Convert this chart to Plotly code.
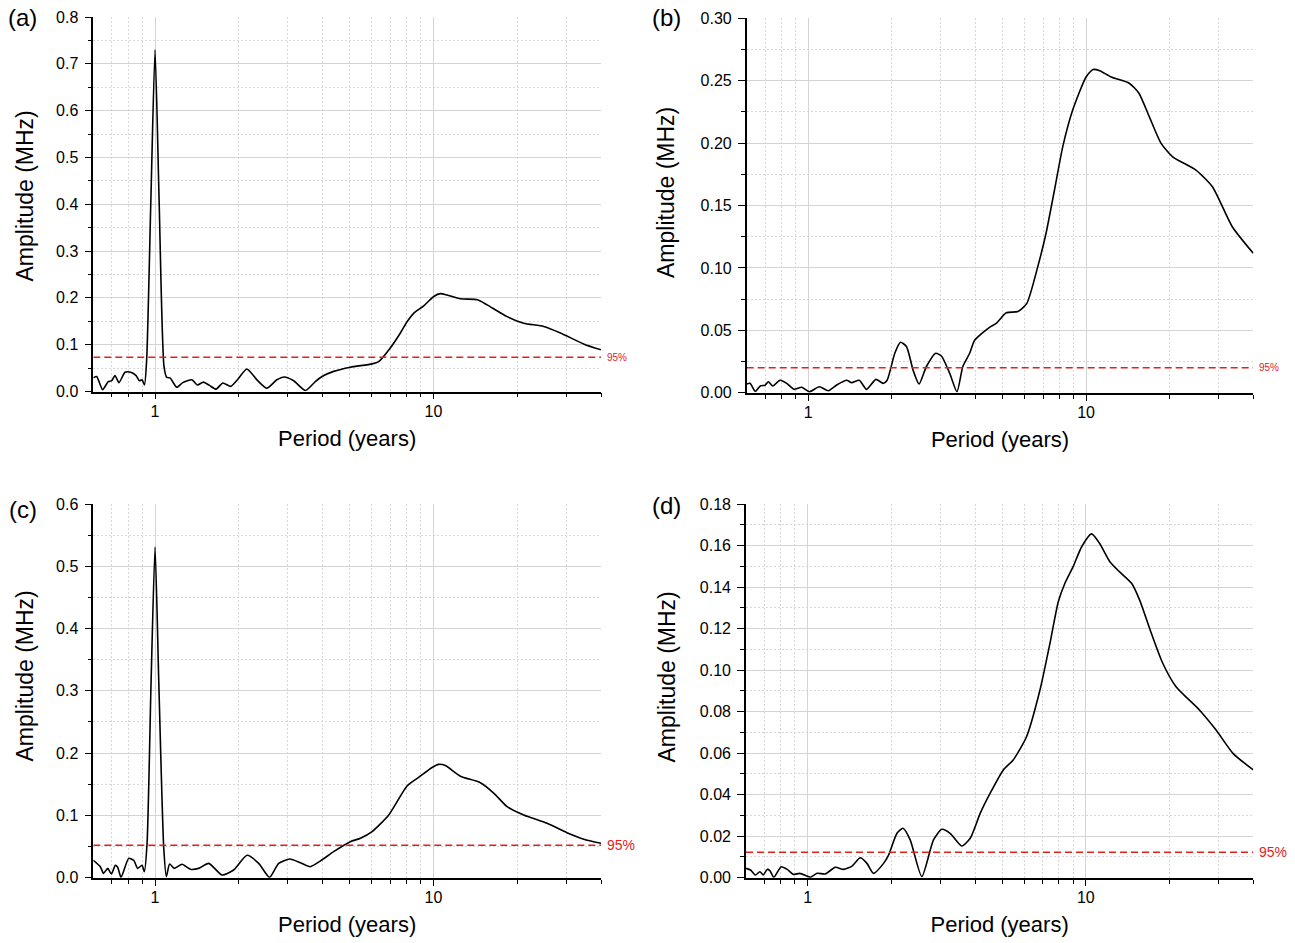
import math
import plotly.graph_objects as go

# ---------------- data ----------------
a_period = [0.6, 0.617, 0.648, 0.679, 0.699, 0.718, 0.742, 0.780, 0.818, 0.855,
            0.879, 0.898, 0.916, 0.933, 0.966, 1.0, 1.034, 1.077, 1.102, 1.132,
            1.197, 1.258, 1.356, 1.420, 1.492, 1.568, 1.656, 1.752, 1.872, 1.977,
            2.137, 2.322, 2.521, 2.739, 2.912, 3.148, 3.467, 3.765, 3.98, 4.38,
            5.03, 6.02, 6.36, 7.0, 7.61, 8.04, 8.49, 9.23, 10.03, 10.6,
            11.2, 12.5, 14.4, 15.6, 18.4, 21.1, 24.9, 28.6, 34.8, 40]
a_amp = [0.029, 0.032, 0.004, 0.021, 0.023, 0.034, 0.019, 0.041, 0.041, 0.034,
         0.023, 0.025, 0.014, 0.068, 0.409, 0.730, 0.409, 0.053, 0.030, 0.029,
         0.009, 0.019, 0.025, 0.014, 0.020, 0.013, 0.005, 0.018, 0.011, 0.025,
         0.048, 0.025, 0.007, 0.025, 0.031, 0.023, 0.002, 0.021, 0.032, 0.043,
         0.052, 0.059, 0.064, 0.093, 0.125, 0.149, 0.167, 0.183, 0.203, 0.209,
         0.206, 0.198, 0.196, 0.185, 0.160, 0.146, 0.139, 0.125, 0.101, 0.089]

b_period = [0.6, 0.617, 0.644, 0.671, 0.699, 0.718, 0.745, 0.791, 0.836, 0.889,
            0.946, 1.008, 1.096, 1.180, 1.265, 1.374, 1.432, 1.525, 1.621, 1.751,
            1.860, 1.922, 2.048, 2.147, 2.256, 2.384, 2.504, 2.662, 2.875, 3.014,
            3.23, 3.43, 3.60, 3.81, 3.97, 4.49, 4.75, 5.16, 5.68, 6.12,
            6.70, 7.18, 7.69, 8.24, 8.95, 10.0, 10.6, 11.2, 12.3, 14.3,
            15.5, 16.9, 18.6, 20.5, 24.8, 28.5, 33.6, 40]
b_amp = [0.007, 0.0075, 0.001, 0.0054, 0.006, 0.0088, 0.0054, 0.010, 0.0075, 0.0027,
         0.0043, 0.0008, 0.0048, 0.0016, 0.0062, 0.010, 0.008, 0.010, 0.0027, 0.0107,
         0.0075, 0.010, 0.0316, 0.0404, 0.037, 0.018, 0.007, 0.021, 0.0316, 0.0294,
         0.0155, 0.0008, 0.021, 0.0316, 0.042, 0.0524, 0.0556, 0.064, 0.065, 0.0716,
         0.101, 0.128, 0.162, 0.197, 0.2265, 0.253, 0.259, 0.258, 0.253, 0.248,
         0.240, 0.221, 0.200, 0.189, 0.1785, 0.165, 0.133, 0.1117]

c_period = [0.6, 0.636, 0.653, 0.676, 0.697, 0.720, 0.734, 0.755, 0.804, 0.838,
            0.866, 0.898, 0.915, 0.936, 0.968, 1.0, 1.031, 1.074, 1.098, 1.128,
            1.173, 1.250, 1.339, 1.435, 1.559, 1.741, 1.916, 2.141, 2.357, 2.580,
            2.78, 3.046, 3.33, 3.61, 3.93, 4.38, 5.03, 5.47, 6.02, 6.91,
            8.04, 8.85, 9.89, 10.45, 11.04, 12.5, 14.75, 16.5, 18.4, 21.1,
            25.6, 30.2, 34.7, 40]
c_amp = [0.028, 0.0177, 0.007, 0.015, 0.006, 0.020, 0.0167, 0.0006, 0.031, 0.028,
         0.015, 0.020, 0.0096, 0.055, 0.317, 0.531, 0.317, 0.050, 0.0016, 0.022,
         0.015, 0.0215, 0.0135, 0.015, 0.023, 0.0043, 0.0124, 0.036, 0.023, 0.0006,
         0.023, 0.030, 0.024, 0.0177, 0.027, 0.0418, 0.0578, 0.0633, 0.0739, 0.1007,
         0.1472, 0.161, 0.177, 0.182, 0.180, 0.163, 0.1525, 0.1355, 0.114, 0.1007,
         0.0873, 0.0723, 0.0617, 0.0552]

d_period = [0.6, 0.623, 0.649, 0.673, 0.692, 0.715, 0.731, 0.755, 0.803, 0.844,
            0.887, 0.936, 0.995, 1.023, 1.081, 1.157, 1.257, 1.346, 1.443, 1.545,
            1.633, 1.725, 1.874, 1.953, 2.094, 2.200, 2.336, 2.572, 2.833, 3.035,
            3.25, 3.58, 3.84, 4.17, 4.53, 5.05, 5.48, 6.12, 6.84, 7.43,
            7.96, 8.41, 9.00, 9.66, 10.48, 11.2, 12.2, 13.2, 14.6, 15.6,
            17.2, 18.9, 21.1, 25.6, 29.4, 33.8, 40]
d_amp = [0.0045, 0.0037, 0.0013, 0.0029, 0.0013, 0.0040, 0.0034, 0.0002, 0.0053, 0.0040,
         0.0016, 0.0021, 0.0008, 0.0002, 0.0021, 0.0018, 0.0050, 0.0040, 0.0056, 0.0096,
         0.0069, 0.0021, 0.0069, 0.0109, 0.0214, 0.0238, 0.0182, 0.0005, 0.0182, 0.0233,
         0.0214, 0.0153, 0.0190, 0.031, 0.0407, 0.0519, 0.0567, 0.0679, 0.0904, 0.1129,
         0.1329, 0.1418, 0.1498, 0.1594, 0.1656, 0.1611, 0.1522, 0.1474, 0.1418, 0.1338,
         0.1177, 0.1033, 0.0920, 0.0808, 0.0711, 0.0599, 0.0519]

thresholds = [0.073, 0.020, 0.052, 0.0122]
panel_labels = ["(a)", "(b)", "(c)", "(d)"]
y_max = [0.8, 0.30, 0.6, 0.18]
y_dtick = [0.1, 0.05, 0.1, 0.02]
y_fmt = [".1f", ".2f", ".1f", ".2f"]
x_range = [0.6, 40]
x_major = [1, 10]
x_minor = [0.7, 0.8, 0.9, 2, 3, 4, 5, 6, 7, 8, 9, 20, 30, 40]
x_title = "Period (years)"
y_title = "Amplitude (MHz)"
sig_label = "95%"
sig_font = [10, 10, 14, 14]

periods = [a_period, b_period, c_period, d_period]
amps = [a_amp, b_amp, c_amp, d_amp]
for p, a in zip(periods, amps):
    assert len(p) == len(a)

# ---------------- layout geometry ----------------
W, H = 1295, 943
# pixel boxes: (left, right, top, bottom)
boxes = [(93.3, 601, 17, 391.5), (746.7, 1253.3, 18.3, 392.7),
         (93.3, 601, 504, 877.7), (746, 1253.3, 504, 877.7)]
label_pos = [(6, 17), (650, 17), (7, 509), (650, 505)]
ytitle_pos = [(24, 196.5), (666, 192), (24, 676.5), (666, 676.5)]

FONT = "Arial, Liberation Sans, sans-serif"
MAJ_GRID = "#d4d4d4"
MIN_GRID = "#d8d8d8"
RED = "#e3211c"

fig = go.Figure()
layout = dict(width=W, height=H, margin=dict(l=0, r=0, t=0, b=0, autoexpand=False),
              paper_bgcolor="white", plot_bgcolor="white", showlegend=False,
              font=dict(family=FONT, color="black"))
annotations = []

for i in range(4):
    n = "" if i == 0 else str(i + 1)
    xa, ya = "x" + n, "y" + n
    l, r, t, b = boxes[i]
    xdom = [l / W, r / W]
    ydom = [1 - b / H, 1 - t / H]

    fig.add_trace(go.Scatter(x=periods[i], y=amps[i], mode="lines", xaxis=xa, yaxis=ya,
                             line=dict(color="black", width=1.6, shape="spline", smoothing=0.6),
                             hoverinfo="x+y"))
    fig.add_trace(go.Scatter(x=x_range, y=[thresholds[i]] * 2, mode="lines", xaxis=xa, yaxis=ya,
                             line=dict(color=RED, width=1.5, dash="7px,4px"), hoverinfo="skip"))

    layout["xaxis" + n] = dict(
        domain=xdom, anchor=ya, type="log", automargin=False,
        range=[math.log10(x_range[0]), math.log10(x_range[1])],
        tickmode="array", tickvals=x_major, ticktext=[str(v) for v in x_major],
        ticks="outside", ticklen=6, tickwidth=1.3, tickcolor="black",
        showline=True, linecolor="black", linewidth=1.6,
        showgrid=True, gridcolor=MAJ_GRID, gridwidth=1,
        tickfont=dict(size=16, family=FONT, color="black"),
        ticklabelstandoff=-2,
        minor=dict(tickmode="array", tickvals=x_minor, ticks="outside", ticklen=4,
                   tickwidth=1.2, tickcolor="black", showgrid=True,
                   gridcolor=MIN_GRID, griddash="2px,2px", gridwidth=1),
        title=dict(text=x_title, font=dict(size=22, family=FONT, color="black"),
                   standoff=12),
        zeroline=False, mirror=False,
    )
    layout["yaxis" + n] = dict(
        domain=ydom, anchor=xa, range=[0, y_max[i]], automargin=False,
        tickmode="linear", tick0=0, dtick=y_dtick[i], tickformat=y_fmt[i],
        ticks="outside", ticklen=7, tickwidth=1.3, tickcolor="black",
        showline=True, linecolor="black", linewidth=1.6,
        showgrid=True, gridcolor=MAJ_GRID, gridwidth=1,
        tickfont=dict(size=16, family=FONT, color="black"),
        ticklabelstandoff=3,
        minor=dict(tickmode="linear", tick0=y_dtick[i] / 2, dtick=y_dtick[i], ticks="outside",
                   ticklen=4, tickwidth=1.2, tickcolor="black", showgrid=True,
                   gridcolor=MIN_GRID, griddash="2px,2px", gridwidth=1),
        zeroline=False, mirror=False,
    )

    # y-axis title placed as rotated text (sits slightly above the axis centre in the reference)
    annotations.append(dict(text=y_title, xref="paper", yref="paper",
                            x=ytitle_pos[i][0] / W, y=1 - ytitle_pos[i][1] / H,
                            xanchor="center", yanchor="middle", textangle=-90, showarrow=False,
                            font=dict(size=23, family=FONT, color="black")))
    annotations.append(dict(text=panel_labels[i], xref="paper", yref="paper",
                            x=label_pos[i][0] / W, y=1 - label_pos[i][1] / H,
                            xanchor="left", yanchor="middle", showarrow=False,
                            font=dict(size=24, family=FONT, color="black")))
    annotations.append(dict(text=sig_label, xref=xa + " domain", yref=ya,
                            x=1, y=thresholds[i], xanchor="left", yanchor="middle",
                            xshift=4, showarrow=False,
                            font=dict(size=sig_font[i], family=FONT, color=RED)))

layout["annotations"] = annotations
fig.update_layout(**layout)

fig.write_html("out.html", config={"displayModeBar": False},
               post_script="document.body.style.margin='0';document.body.style.overflow='hidden';")
